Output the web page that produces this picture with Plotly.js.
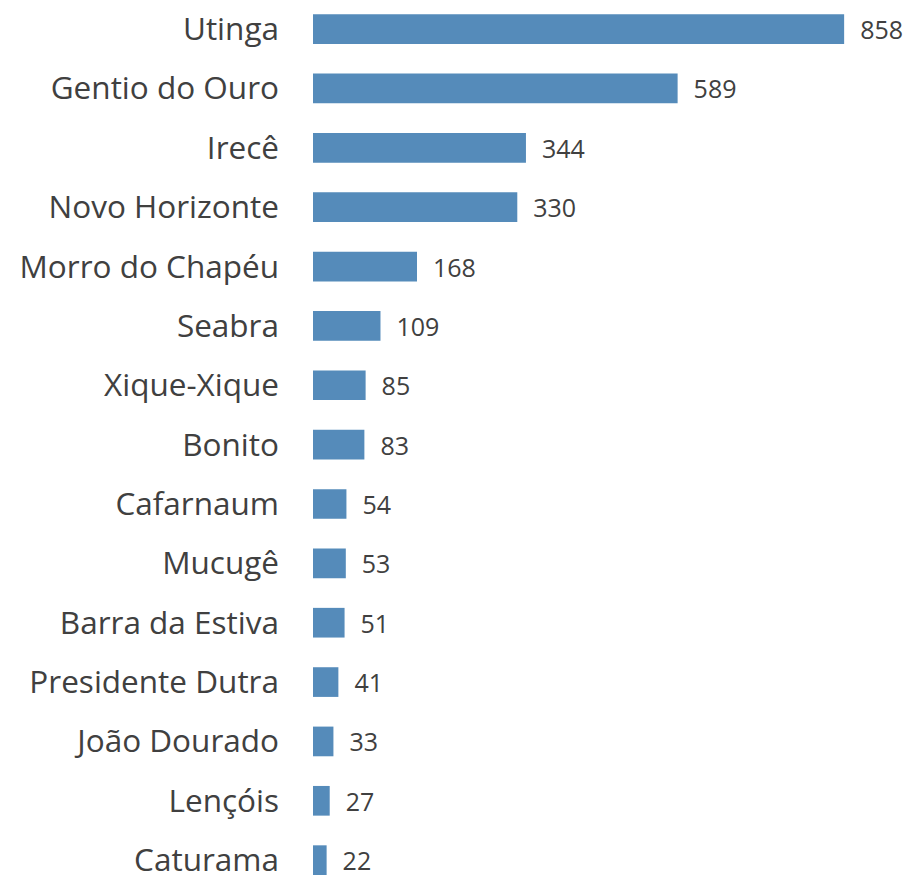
<!DOCTYPE html>
<html><head><meta charset="utf-8">
<script src="https://cdn.plot.ly/plotly-3.0.1.min.js"></script>
<style>html,body{margin:0;padding:0;background:#fff;}</style>
</head><body>
<div id="chart" style="width:911px;height:875px;"></div>
<script>
const categories = ["Utinga","Gentio do Ouro","Irecê","Novo Horizonte","Morro do Chapéu","Seabra","Xique-Xique","Bonito","Cafarnaum","Mucugê","Barra da Estiva","Presidente Dutra","João Dourado","Lençóis","Caturama"];
const values = [858,589,344,330,168,109,85,83,54,53,51,41,33,27,22];

const trace = {
  type: "bar",
  orientation: "h",
  y: categories,
  x: values,
  marker: {color: "#558bba"},
  text: values.map(v => "\u00a0\u00a0" + v),
  textposition: "outside",
  constraintext: "none",
  cliponaxis: false,
  textfont: {family: "Open Sans, sans-serif", size: 25, color: "#404040"},
  hoverinfo: "none"
};
const layout = {
  width: 911, height: 875,
  margin: {l: 313, r: 0, t: 0, b: 0, pad: 0},
  paper_bgcolor: "#fff", plot_bgcolor: "#fff",
  bargap: 0.5,
  showlegend: false,
  xaxis: {range: [0, 966], visible: false, fixedrange: true},
  yaxis: {
    type: "category",
    range: [14.25, -0.49],
    showgrid: false, zeroline: false, showline: false,
    ticks: "", ticklabelstandoff: 33,
    tickfont: {family: "Open Sans, sans-serif", size: 31.5, color: "#404040"},
    automargin: false
  }
};
Plotly.newPlot("chart", [trace], layout, {staticPlot: true});
</script>
</body></html>
